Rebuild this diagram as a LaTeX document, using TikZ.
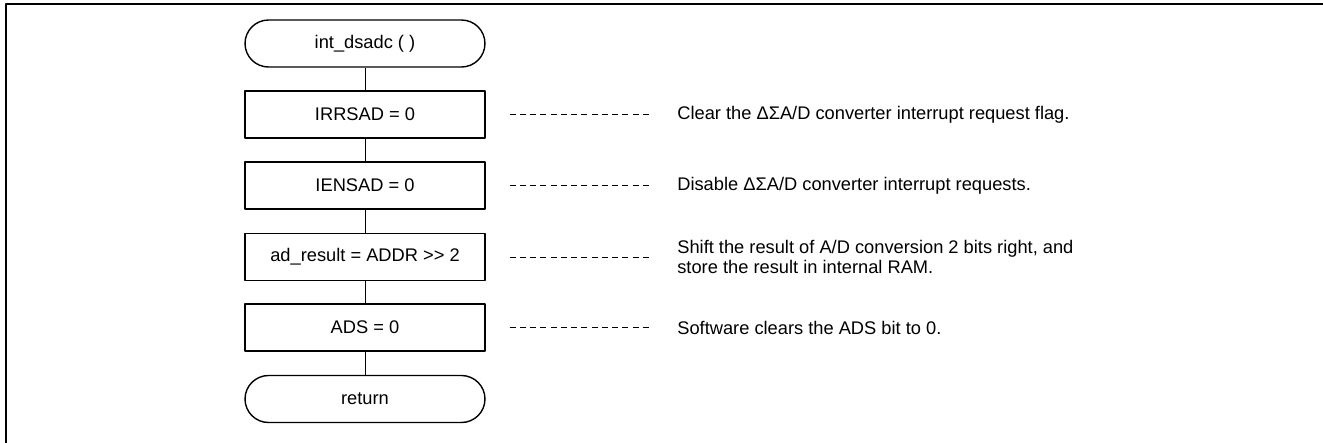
\documentclass[tikz,border=0pt]{standalone}
\usepackage{fontspec}
\setmainfont{Liberation Sans}
\tikzset{
	proc/.style={draw, line width=0.8pt, minimum width=4.8cm, minimum height=0.94cm, inner sep=0pt},
	term/.style={proc, rounded corners=0.47cm},
	note/.style={anchor=west, inner sep=0pt, align=left}
}
\begin{document}
\begin{tikzpicture}[x=0.02cm, y=-0.02cm, font=\fontsize{10.4}{11}\selectfont, line join=round]
				\useasboundingbox (0,0) rectangle (1323,443);
				\draw[line width=1.1pt] (6,443) -- (6,4) -- (1323,4);
				\node[term] (S) at (365,43.5) {int\_dsadc ( )};
				\node[proc] (P1) at (365,114.5) {IRRSAD = 0};
				\node[proc] (P2) at (365,185.5) {IENSAD = 0};
				\node[proc] (P3) at (365,257) {ad\_result = ADDR {>}{>} 2};
				\node[proc] (P4) at (365,327.5) {ADS = 0};
				\node[term] (E) at (365,399) {return};
				\node[note] (N1) at (677,114.5) {Clear the ΔΣA/D converter interrupt request flag.};
				\node[note] (N2) at (677,185.5) {Disable ΔΣA/D converter interrupt requests.};
				\node[note] (N3) at (677,257) {Shift the result of A/D conversion 2 bits right, and\\store the result in internal RAM.};
				\node[note] (N4) at (677,327.5) {Software clears the ADS bit to 0.};
				\draw[line width=0.5pt] (S)--(P1)--(P2)--(P3)--(P4)--(E);
				\foreach \i in {1,...,4} \draw[line width=0.5pt, dash pattern=on 0.12cm off 0.085cm, shorten <=0.48cm, shorten >=0.48cm] (P\i.east) -- (N\i.west);
			\end{tikzpicture}
\end{document}
